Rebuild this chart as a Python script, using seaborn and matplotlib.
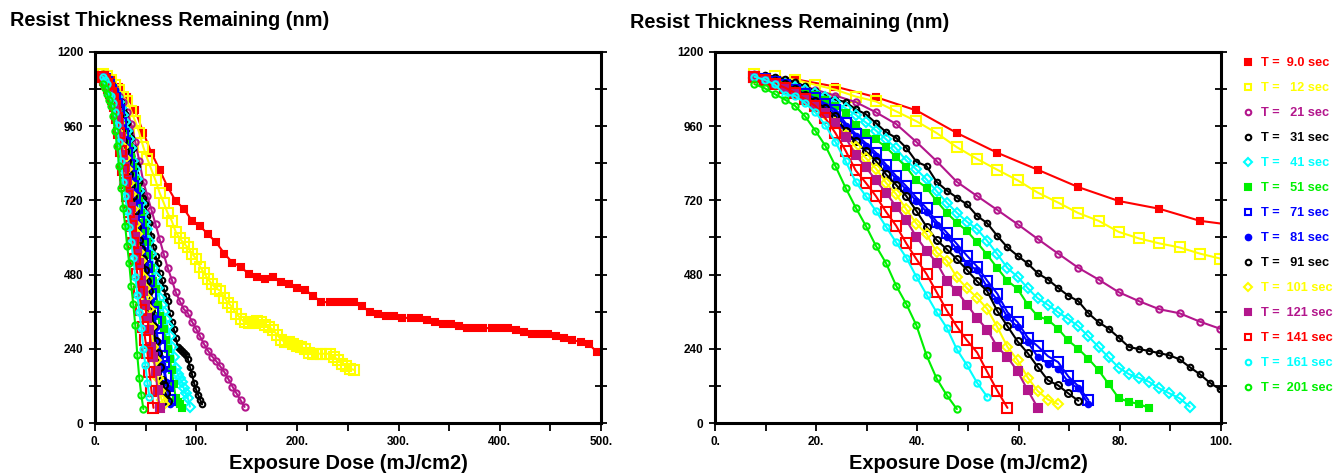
import matplotlib
matplotlib.use("Agg")
import matplotlib.pyplot as plt
from matplotlib.lines import Line2D
from matplotlib.ticker import MultipleLocator, FuncFormatter
import seaborn as sns
import pandas as pd

# dose grids (mJ/cm2) used by the runs
dose_8 = [7.8, 15.8, 23.8, 31.8, 39.8, 47.8, 55.8, 63.8, 71.8, 79.8, 87.8, 95.8,
          103.8, 111.8, 119.8, 127.8, 135.8, 143.8, 151.8, 159.8, 167.8, 175.8,
          183.8, 191.8, 199.8, 207.8, 215.8, 223.8, 231.8, 239.8, 247.8, 255.8,
          263.8, 271.8, 279.8, 287.8, 295.8, 303.8, 311.8, 319.8, 327.8, 335.8,
          343.8, 351.8, 359.8, 367.8, 375.8, 383.8, 391.8, 399.8, 407.8, 415.8,
          423.8, 431.8, 439.8, 447.8, 455.8, 463.8, 471.8, 479.8, 487.8, 495.8, 503.8]
dose_4 = [7.8, 11.8, 15.8, 19.8, 23.8, 27.8, 31.8, 35.8, 39.8, 43.8, 47.8, 51.8,
          55.8, 59.8, 63.8, 67.8, 71.8, 75.8, 79.8, 83.8, 87.8, 91.8, 95.8, 99.8,
          103.8, 107.8, 111.8, 115.8, 119.8, 123.8, 127.8, 131.8, 135.8, 139.8,
          143.8, 147.8, 151.8, 155.8, 159.8, 163.8, 167.8, 171.8, 175.8, 179.8,
          183.8, 187.8, 191.8, 195.8, 199.8, 203.8, 207.8, 211.8, 215.8, 219.8,
          223.8, 227.8, 231.8, 235.8, 239.8, 243.8, 247.8, 251.8, 255.8]
dose_2 = [7.8, 9.8, 11.8, 13.8, 15.8, 17.8, 19.8, 21.8, 23.8, 25.8, 27.8, 29.8,
          31.8, 33.8, 35.8, 37.8, 39.8, 41.8, 43.8, 45.8, 47.8, 49.8, 51.8, 53.8,
          55.8, 57.8, 59.8, 61.8, 63.8, 65.8, 67.8, 69.8, 71.8, 73.8, 75.8, 77.8,
          79.8, 81.8, 83.8, 85.8, 87.8, 89.8, 91.8, 93.8, 95.8, 97.8, 99.8, 101.8,
          103.8, 105.8]

# resist thickness remaining (nm) per development time
thk_9 = [1127, 1112, 1088, 1054, 1011, 938, 874, 819, 763, 718, 693, 654, 637, 610,
         584, 548, 519, 506, 482, 473, 466, 473, 456, 449, 436, 430, 411, 391, 391,
         391, 391, 391, 378, 359, 353, 346, 346, 340, 340, 340, 333, 327, 320, 320,
         314, 307, 307, 307, 307, 307, 307, 301, 295, 288, 288, 288, 282, 275, 269,
         262, 256, 230, 230]
thk_12 = [1128, 1121, 1110, 1094, 1078, 1056, 1040, 1008, 976, 938, 892, 854, 819,
          785, 745, 713, 679, 654, 618, 597, 581, 568, 548, 532, 505, 485, 465, 448,
          435, 428, 405, 388, 374, 352, 338, 326, 322, 322, 330, 327, 318, 310, 302,
          286, 270, 262, 262, 255, 250, 246, 240, 225, 224, 224, 224, 224, 224, 215,
          205, 192, 185, 176, 172]
thk_21 = [1122, 1115, 1098, 1078, 1059, 1038, 1005, 967, 909, 847, 780, 734, 689,
          643, 595, 548, 502, 464, 423, 394, 368, 355, 328, 305, 280, 255, 233, 215,
          200, 183, 165, 142, 118, 96, 74, 52]
thk_31 = [1128, 1125, 1120, 1112, 1102, 1090, 1073, 1056, 1046, 1038, 1015, 999, 970,
          941, 922, 890, 845, 831, 780, 752, 729, 707, 670, 646, 605, 568, 541, 516,
          484, 464, 437, 412, 394, 355, 326, 305, 276, 246, 239, 233, 226, 219, 206,
          181, 158, 130, 109, 92, 76, 60]
thk_41 = [1115, 1110, 1102, 1095, 1088, 1078, 1068, 1055, 1038, 1018, 997, 972, 946,
          918, 888, 849, 820, 788, 750, 713, 680, 651, 627, 589, 546, 501, 473, 436,
          403, 382, 358, 337, 313, 280, 246, 212, 179, 158, 146, 133, 112, 96, 80, 53]
thk_51 = [1118, 1112, 1105, 1096, 1085, 1072, 1060, 1046, 1025, 1003, 965, 938, 917,
          892, 860, 828, 785, 761, 718, 680, 648, 621, 584, 544, 501, 460, 434, 383,
          345, 334, 305, 267, 240, 208, 171, 126, 80, 69, 61, 49]
thk_71 = [1120, 1112, 1103, 1092, 1078, 1065, 1051, 1033, 1013, 970, 935, 905, 874,
          836, 799, 766, 729, 695, 651, 616, 579, 541, 506, 460, 418, 358, 326, 276,
          248, 216, 197, 151, 119, 74]
thk_81 = [1118, 1110, 1100, 1088, 1075, 1060, 1045, 1025, 1002, 962, 928, 897, 865,
          826, 790, 755, 718, 683, 640, 602, 563, 514, 495, 439, 398, 342, 310, 262,
          213, 192, 176, 133, 112, 60]
thk_91 = [1125, 1117, 1107, 1095, 1080, 1062, 1040, 1018, 992, 946, 911, 879, 847,
          804, 770, 734, 686, 635, 592, 562, 530, 495, 458, 426, 362, 313, 264, 226,
          181, 138, 122, 96, 72]
thk_101 = [1115, 1108, 1098, 1085, 1068, 1045, 1022, 1000, 970, 930, 892, 857, 823,
           777, 740, 691, 645, 611, 552, 525, 471, 436, 405, 369, 310, 246, 203, 147,
           103, 76, 61]
thk_121 = [1118, 1108, 1098, 1085, 1068, 1050, 1028, 1003, 970, 924, 866, 828, 785,
           745, 700, 656, 602, 557, 519, 460, 426, 383, 339, 302, 246, 213, 167, 106, 49]
thk_141 = [1118, 1110, 1098, 1085, 1068, 1048, 1026, 986, 938, 881, 817, 777, 734,
           683, 638, 581, 530, 482, 423, 364, 312, 267, 228, 165, 104, 49]
thk_161 = [1120, 1110, 1095, 1062, 1058, 1035, 1006, 963, 909, 847, 780, 734, 686,
           635, 584, 535, 473, 415, 358, 308, 238, 187, 130, 85]
thk_201 = [1096, 1083, 1064, 1046, 1026, 992, 946, 897, 831, 761, 697, 638, 573, 517,
           444, 385, 316, 219, 144, 90, 45]

labels = ["T =  9.0 sec", "T =   12 sec", "T =   21 sec", "T =   31 sec",
          "T =   41 sec", "T =   51 sec", "T =   71 sec", "T =   81 sec",
          "T =   91 sec", "T =  101 sec", "T =  121 sec", "T =  141 sec",
          "T =  161 sec", "T =  201 sec"]
doses = [dose_8, dose_4, dose_4, dose_2, dose_2, dose_2, dose_2, dose_2, dose_2,
         dose_2, dose_2, dose_2, dose_2, dose_2]
thicks = [thk_9, thk_12, thk_21, thk_31, thk_41, thk_51, thk_71, thk_81, thk_91,
          thk_101, thk_121, thk_141, thk_161, thk_201]

RED, YEL, PUR, BLK, CYN, GRN, BLU = ("#ff0000", "#ffff00", "#b3168c", "#000000",
                                     "#00ffff", "#00f000", "#0000ff")
# color, marker, filled, markersize
styles = [(RED, "s", True, 4.5), (YEL, "s", False, 7), (PUR, "o", False, 4.5),
          (BLK, "o", False, 4), (CYN, "D", False, 5), (GRN, "s", True, 5),
          (BLU, "s", False, 7.5), (BLU, "o", True, 4), (BLK, "o", False, 5),
          (YEL, "D", False, 5.5), (PUR, "s", True, 5.5), (RED, "s", False, 7.5),
          (CYN, "o", False, 4.5), (GRN, "o", False, 4.5)]

rows = []
for lab, d, t in zip(labels, doses, thicks):
    for x, y in zip(d, t):
        rows.append((lab, x, y))
df = pd.DataFrame(rows, columns=["run", "dose", "thk"])

sns.set_theme(style="white")
plt.rcParams["font.family"] = ["Liberation Sans", "DejaVu Sans"]
for key in ("text.color", "axes.labelcolor", "xtick.color", "ytick.color"):
    plt.rcParams[key] = "black"

W, H = 1337, 473
fig = plt.figure(figsize=(W / 100, H / 100), dpi=100)
ax1 = fig.add_axes([95 / W, 1 - 423 / H, 506 / W, 371 / H])
ax2 = fig.add_axes([715 / W, 1 - 423 / H, 506 / W, 371 / H])

handles = []
for lab, (col, mk, filled, ms) in zip(labels, styles):
    sub = df[df["run"] == lab]
    for ax in (ax1, ax2):
        sns.lineplot(data=sub, x="dose", y="thk", ax=ax, estimator=None, sort=False,
                     color=col, linewidth=1.5, marker=mk, markersize=ms,
                     markerfacecolor=col if filled else "none",
                     markeredgecolor=col, markeredgewidth=1.5, legend=False)
    handles.append(Line2D([], [], linestyle="", marker=mk, color=col,
                          markersize=4 if filled or mk != "s" else 5,
                          markerfacecolor=col if filled else "none",
                          markeredgecolor=col, markeredgewidth=1.5))

for ax, xmax, xmaj in ((ax1, 500, 100), (ax2, 100, 20)):
    ax.set_xlim(0, xmax)
    ax.set_ylim(0, 1200)
    ax.xaxis.set_major_locator(MultipleLocator(xmaj))
    ax.xaxis.set_minor_locator(MultipleLocator(xmaj / 2))
    ax.yaxis.set_major_locator(MultipleLocator(240))
    ax.yaxis.set_minor_locator(MultipleLocator(120))
    ax.xaxis.set_major_formatter(FuncFormatter(lambda v, p: f"{v:.0f}."))
    ax.yaxis.set_major_formatter(FuncFormatter(lambda v, p: f"{v:.0f}"))
    ax.tick_params(axis="x", which="both", direction="out", length=6, width=1.3,
                   bottom=True, top=False, labelsize=8.5, pad=3)
    ax.tick_params(axis="y", which="both", direction="inout", length=9, width=1.3,
                   left=True, right=True, labelsize=8.5, pad=4)
    for lbl in ax.get_xticklabels() + ax.get_yticklabels():
        lbl.set_fontweight("bold")
    for sp in ax.spines.values():
        sp.set_linewidth(2.2)
        sp.set_color("black")
    ax.set_xlabel("Exposure Dose (mJ/cm2)", fontsize=14.4, fontweight="bold",
                  labelpad=5)
    ax.set_ylabel("")

fig.text(10 / W, 1 - 20 / H, "Resist Thickness Remaining (nm)", fontsize=14.3,
         fontweight="bold", ha="left", va="center")
fig.text(630 / W, 1 - 22 / H, "Resist Thickness Remaining (nm)", fontsize=14.3,
         fontweight="bold", ha="left", va="center")

fig.legend(handles, labels, loc="upper left", bbox_to_anchor=(1244 / W, 1 - 57 / H),
           frameon=False, prop={"weight": "bold", "size": 9.2},
           labelcolor=[s[0] for s in styles], handlelength=0.7, handletextpad=0.6,
           labelspacing=1.02, borderaxespad=0, borderpad=0)

fig.savefig("out.png", dpi=100, facecolor="white")
